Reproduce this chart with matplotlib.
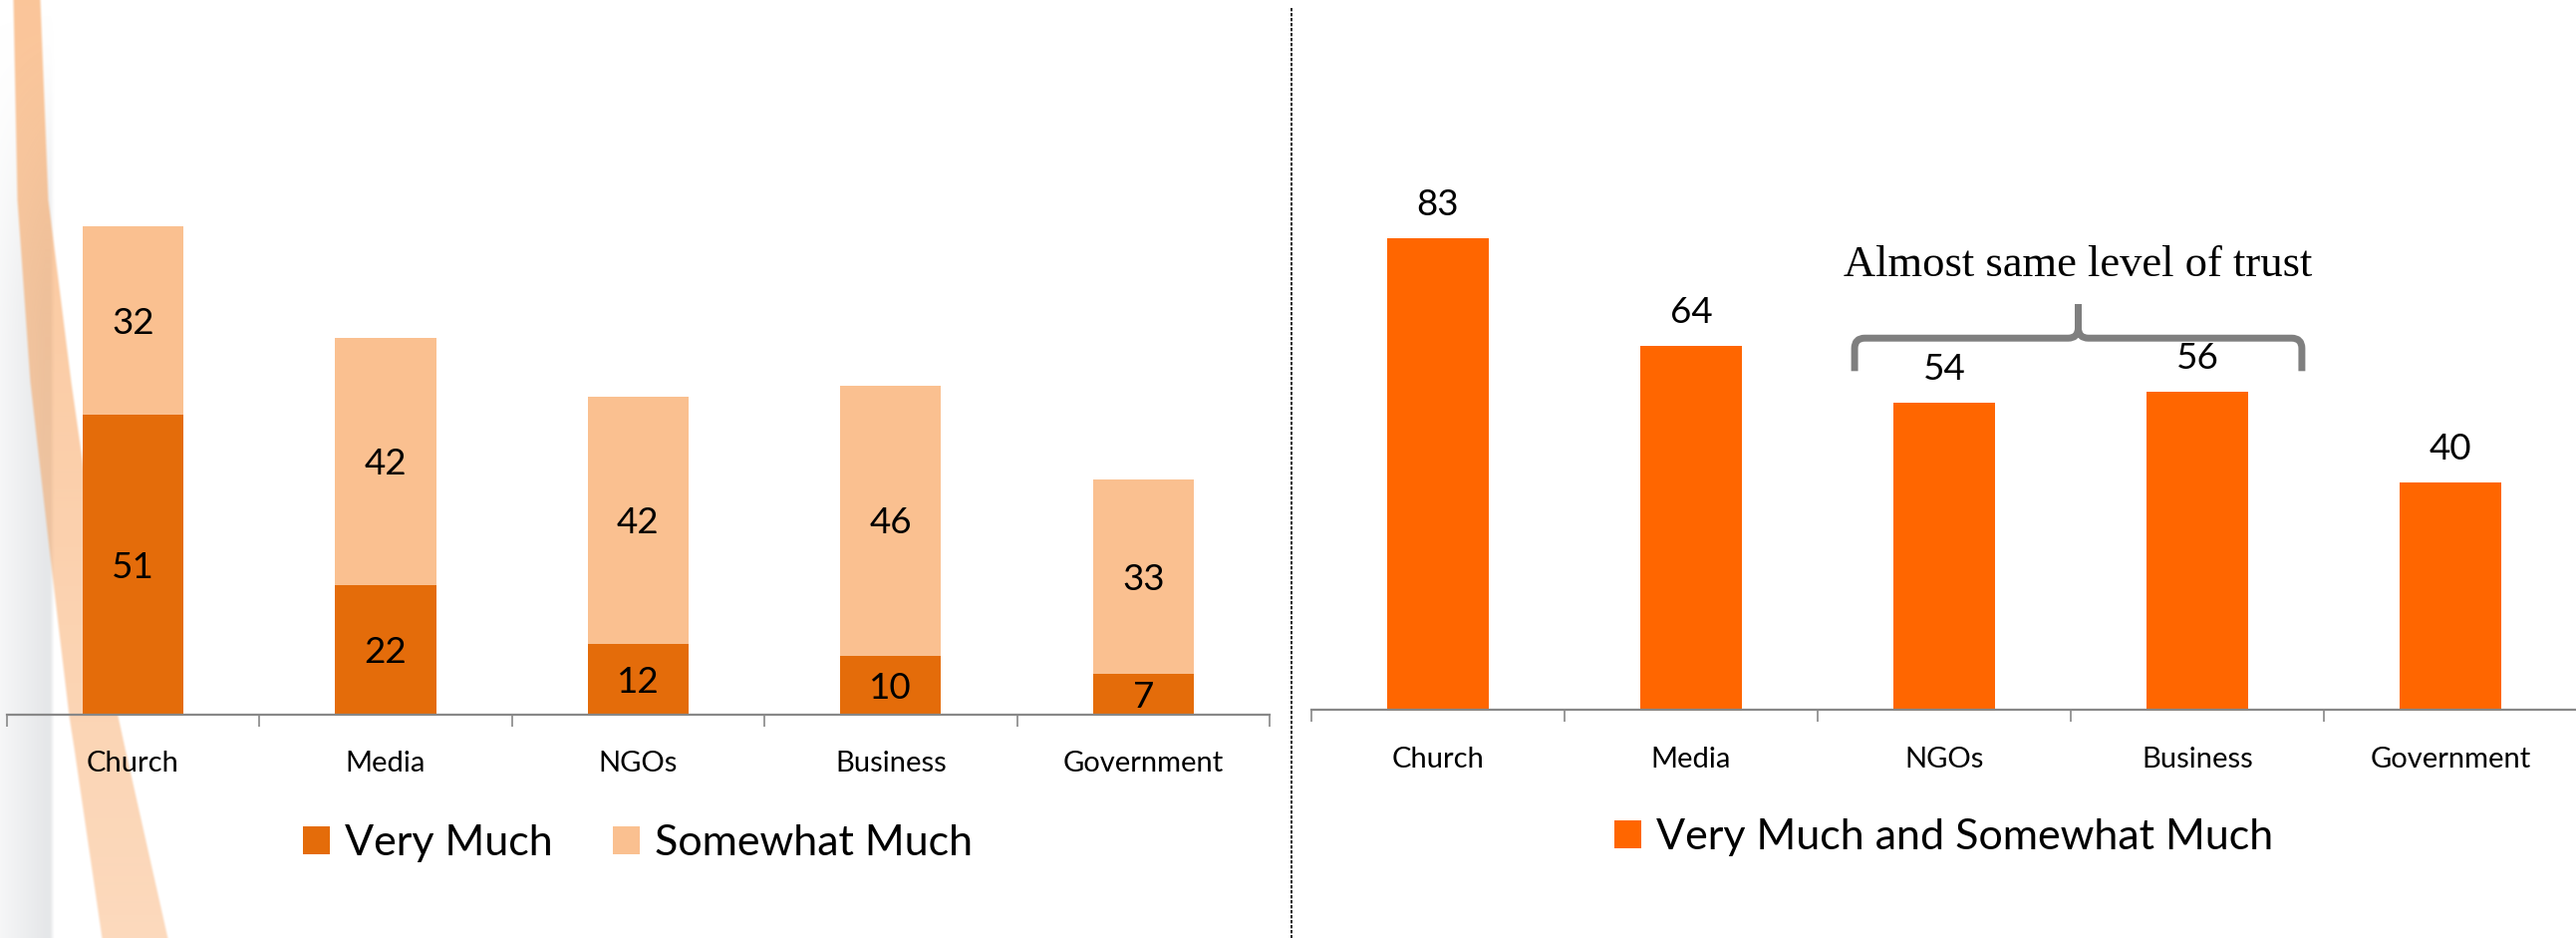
"""Trust in institutions: stacked (left) and combined (right) bar charts"""
import numpy as np
import matplotlib
matplotlib.use("Agg")
import matplotlib.pyplot as plt
from matplotlib.path import Path
from matplotlib.patches import PathPatch

matplotlib.rcParams["font.family"] = ["Lato", "DejaVu Sans"]

# data
categories = ["Church", "Media", "NGOs", "Business", "Government"]
very_much = [51, 22, 12, 10, 7]
somewhat_much = [32, 42, 42, 46, 33]
combined = [83, 64, 54, 56, 40]
note_text = "Almost same level of trust"
note_pair = (2, 3)  # NGOs, Business

COLOR_DARK = "#E46C0A"
COLOR_LIGHT = "#FAC090"
COLOR_RIGHT = "#FF6600"
COLOR_AXIS = "#888888"
COLOR_BRACE = "#7F7F7F"

W, H = 2585, 941
fig = plt.figure(figsize=(W / 100, H / 100), dpi=100, facecolor="white")

# --- background decoration (slide swoosh on the left edge) ---
ax_bg = fig.add_axes([0, 0, 1, 1], zorder=-5)
ax_bg.set_xlim(0, W)
ax_bg.set_ylim(H, 0)
ax_bg.axis("off")

BW = 200
yy, xx = np.mgrid[0:H, 0:BW].astype(float)
edge_y = [0, 200, 383, 550, 718, 750, 941]
edge_l = [11, 15, 28, 47, 67, 72, 100]
edge_r = [42, 50, 73, 97, 120, 127, 170]
left = np.interp(yy, edge_y, edge_l)
right = np.interp(yy, edge_y, edge_r)


def smooth(t):
    t = np.clip(t, 0, 1)
    return t * t * (3 - 2 * t)


band = smooth((xx - left) / 4) * smooth((right - xx) / 4)
band_alpha = band * np.interp(yy, [0, 941], [0.55, 0.36])
# gray ribbon at the very edge
gray_alpha = (smooth(yy / 350) * (0.25 + 0.45 * np.clip(xx / 45, 0, 1))
              * smooth((55 - xx) / 6))

img = np.ones((H, BW, 4))
orange = np.array([247, 150, 70]) / 255
gray = np.array([0.86, 0.87, 0.88])
a_tot = band_alpha + gray_alpha * (1 - band_alpha)
a_safe = np.where(a_tot > 0, a_tot, 1)
for c in range(3):
    img[..., c] = (orange[c] * band_alpha + gray[c] * gray_alpha * (1 - band_alpha)) / a_safe
img[..., 3] = a_tot
ax_bg.imshow(img, extent=(0, BW, H, 0), aspect="auto", interpolation="bilinear")

# divider
ax_bg.plot([1296, 1296], [8, H], color="black", lw=1.2, ls=(0, (2, 1)))

x = np.arange(len(categories))


def style_axis(ax, pad):
    ax.set_facecolor("none")
    for s in ["left", "top", "right"]:
        ax.spines[s].set_visible(False)
    ax.spines["bottom"].set_color(COLOR_AXIS)
    ax.spines["bottom"].set_linewidth(1.6)
    ax.set_yticks([])
    ax.set_xlim(-0.5, len(categories) - 0.5)
    ax.set_xticks(x)
    ax.set_xticklabels(categories, fontsize=21)
    ax.tick_params(axis="x", which="major", length=0, pad=pad)
    ax.set_xticks(np.arange(-0.5, len(categories)), minor=True)
    ax.tick_params(axis="x", which="minor", length=8.6, width=1.2, color=COLOR_AXIS)


# --- left: stacked bars ---
ax1 = fig.add_axes([6.6 / W, 1 - 717 / H, 1267.4 / W, 531 / H])
ax1.bar(x, very_much, width=0.4, color=COLOR_DARK, label="Very Much")
ax1.bar(x, somewhat_much, width=0.4, bottom=very_much, color=COLOR_LIGHT,
        label="Somewhat Much")
ax1.set_ylim(0, 90)
style_axis(ax1, 26)
for i in range(len(categories)):
    ax1.annotate(str(very_much[i]), (x[i], very_much[i] / 2), xytext=(0, -9.5),
                 textcoords="offset points", ha="center", va="baseline", fontsize=26.5)
    ax1.annotate(str(somewhat_much[i]), (x[i], very_much[i] + somewhat_much[i] / 2),
                 xytext=(0, -9.5), textcoords="offset points", ha="center", va="baseline",
                 fontsize=26.5)
ax1.legend(loc="center", bbox_to_anchor=(0.5, -0.243), ncol=2, frameon=False, fontsize=31,
           handlelength=0.62, handleheight=0.62, handletextpad=0.35, columnspacing=1.4)

# --- right: combined bars ---
ax2 = fig.add_axes([1316 / W, 1 - 712 / H, 1270 / W, 513 / H])
ax2.bar(x, combined, width=0.4, color=COLOR_RIGHT, label="Very Much and Somewhat Much")
ax2.set_ylim(0, 90)
style_axis(ax2, 27)
for i in range(len(categories)):
    ax2.annotate(str(combined[i]), (x[i], combined[i]), xytext=(0, 16.5),
                 textcoords="offset points", ha="center", va="baseline", fontsize=26.5)
ax2.legend(loc="center", bbox_to_anchor=(0.5, -0.25), frameon=False, fontsize=31,
           handlelength=0.62, handleheight=0.62, handletextpad=0.35)

# brace over NGOs / Business
x0 = x[note_pair[0]] - 0.354
x1 = x[note_pair[1]] + 0.413
xm = (x0 + x1) / 2
y_end, y_h, y_pk = 59.6, 65.4, 71.4
rx, ry = 0.04, 1.8
verts = [
    (x0, y_end), (x0, y_h - ry), (x0, y_h), (x0 + rx, y_h),
    (xm - rx, y_h), (xm, y_h), (xm, y_h + ry), (xm, y_pk),
    (xm, y_pk), (xm, y_h + ry), (xm, y_h), (xm + rx, y_h),
    (x1 - rx, y_h), (x1, y_h), (x1, y_h - ry), (x1, y_end),
]
codes = [
    Path.MOVETO, Path.LINETO, Path.CURVE3, Path.CURVE3,
    Path.LINETO, Path.CURVE3, Path.CURVE3, Path.LINETO,
    Path.MOVETO, Path.LINETO, Path.CURVE3, Path.CURVE3,
    Path.LINETO, Path.CURVE3, Path.CURVE3, Path.LINETO,
]
ax2.add_patch(PathPatch(Path(verts, codes), facecolor="none", edgecolor=COLOR_BRACE,
                        lw=5, capstyle="butt", joinstyle="round", clip_on=False))
ax2.text(xm, 76.3, note_text, ha="center", va="baseline", fontsize=32,
         family=["Liberation Serif", "DejaVu Serif"], clip_on=False)

fig.savefig("out.png", dpi=100, facecolor="white")
plt.close(fig)
